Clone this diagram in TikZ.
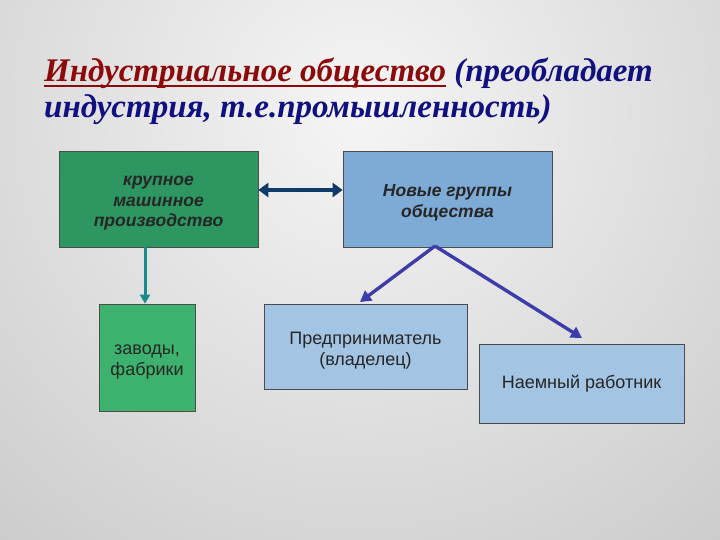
\documentclass[tikz,border=0pt]{standalone}
\usepackage{fontspec}
\setmainfont{Liberation Serif}
\setsansfont{Liberation Sans}
\newfontfamily\titlefont{Liberation Serif Bold Italic}
\newfontfamily\boxbi{Liberation Sans Bold Italic}
\usetikzlibrary{arrows.meta}
\definecolor{dgreen}{RGB}{46,150,96}
\definecolor{lgreen}{RGB}{60,178,110}
\definecolor{mblue}{RGB}{126,170,214}
\definecolor{lblue}{RGB}{164,196,228}
\definecolor{navy}{RGB}{16,16,128}
\definecolor{dred}{RGB}{140,10,10}
\definecolor{arrblue}{RGB}{15,58,106}
\definecolor{teal2}{RGB}{24,140,140}
\definecolor{purp}{RGB}{60,60,170}
\newcommand{\pushdn}[1]{\rule{0pt}{0pt}\\[#1]}
\tikzset{
  box/.style={draw=black!70, line width=0.7pt, minimum width=#1, inner sep=0pt, align=center, font=\sffamily},
  sizeh/.style={minimum height=#1},
  ttl/.style={anchor=base west, font=\titlefont\fontsize{33}{38}\selectfont, inner sep=0pt},
  bi/.style={font=\boxbi\fontsize{17.5}{20.5}\selectfont, text=black!85},
  rg/.style={font=\sffamily\fontsize{18}{21.5}\selectfont, text=black!85},
}
\begin{document}
\begin{tikzpicture}[x=1pt,y=-1pt]
\useasboundingbox (0,0) rectangle (720,540);
\begin{scope}
\clip (0,0) rectangle (720,540);
\shade[inner color=black!4, outer color=black!38] (360,110) circle (1200);
\end{scope}
% title
\node[ttl, text=dred] (t1a) at (44,82) {Индустриальное общество};
\node[ttl, text=navy] (t1b) at ([xshift=8pt]t1a.base east) {(преобладает};
\node[ttl, text=navy] (t2) at (44,118) {индустрия, т.е.промышленность)};
\draw[dred, line width=2.4pt] ([yshift=-4pt]t1a.base west) -- ([yshift=-4pt]t1a.base east);
% boxes
\node[box=199pt, sizeh=96pt, fill=dgreen, bi] (a) at (158.5,199)
  {\pushdn{-2.5pt}крупное\\машинное\\производство};
\node[box=209pt, sizeh=96pt, fill=mblue, bi] (b) at (447.5,199)
  {\pushdn{-1pt}Новые группы\\общества};
\node[box=96pt, sizeh=107pt, fill=lgreen, rg] (c) at (147,357.5)
  {\pushdn{-3pt}заводы,\\фабрики};
\node[box=203pt, sizeh=85pt, fill=lblue, rg] (d) at (365.5,346.5)
  {\pushdn{-1pt}Предприниматель\\(владелец)};
\node[box=205pt, sizeh=79pt, fill=lblue, rg] (e) at (581.5,383.5)
  {Наемный работник};
% connectors
\draw[arrblue, line width=4.8pt, {Triangle[length=10pt,width=14pt]}-{Triangle[length=10pt,width=14pt]}] (a.east |- 0,190) -- (b.west |- 0,190);
\draw[teal2, line width=3pt, -{Triangle[length=9pt,width=10pt]}] (a.south -| 145,0) -- (c.north -| 145,0);
\coordinate (bs) at (435,246);
\draw[purp, line width=3.4pt, -{Triangle[length=11pt,width=12pt]}] (bs) -- (360,302);
\draw[purp, line width=3.4pt, -{Triangle[length=11pt,width=12pt]}] (bs) -- (582,338);
\end{tikzpicture}
\end{document}
